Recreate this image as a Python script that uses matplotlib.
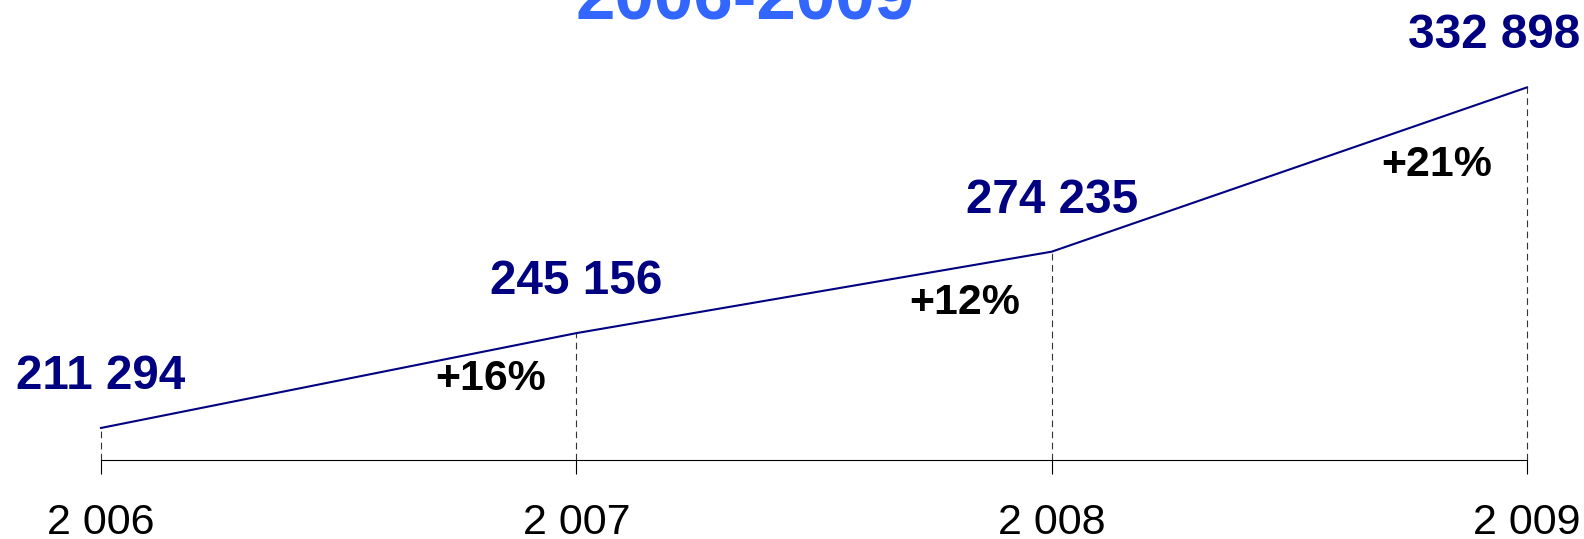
import matplotlib
matplotlib.use("Agg")
import matplotlib.pyplot as plt

plt.rcParams['font.family'] = ['Liberation Sans', 'DejaVu Sans']

years = [2006, 2007, 2008, 2009]
year_labels = ['2 006', '2 007', '2 008', '2 009']
values = [211294, 245156, 274235, 332898]
title = '2006-2009'

navy = '#000080'
blue = '#3366FF'

fig = plt.figure(figsize=(15.84, 5.39), dpi=100)
ax = fig.add_axes([101 / 1584, (539 - 459.6) / 539, (1527 - 101) / 1584, 459.6 / 539])
ax.set_xlim(2006, 2009)
ax.set_ylim(200000, 364100)

ax.plot(years, values, color=navy, lw=1.5, solid_joinstyle='miter', clip_on=False)
ax.vlines(years, 200000, values, colors='#333333', linestyles=(0, (6, 4)), lw=0.8, clip_on=False)

# value labels above each point
for i, (x, v) in enumerate(zip(years, values)):
    ha = 'center'
    dx = 0
    if i == len(years) - 1:
        ha = 'right'
        dx = 38
    ax.annotate(f"{v:,}".replace(",", " "), (x, v), xytext=(dx, 28), textcoords='offset points',
                ha=ha, va='baseline', fontsize=34.3, fontweight='bold', color=navy,
                annotation_clip=False)

# growth labels, placed left of and below each point
pct_offsets = [(-22, -41), (-23, -45), (-25, -64)]
for i in range(1, len(values)):
    pct = round((values[i] / values[i - 1] - 1) * 100)
    dx, dy = pct_offsets[i - 1]
    ax.annotate(f"+{pct}%", (years[i], values[i]), xytext=(dx, dy), textcoords='offset points',
                ha='right', va='baseline', fontsize=30.8, fontweight='bold', color='black',
                annotation_clip=False)

for s in ['top', 'right', 'left']:
    ax.spines[s].set_visible(False)
ax.spines['bottom'].set_bounds(2006, 2009)
ax.spines['bottom'].set_linewidth(0.8)
ax.set_yticks([])
ax.set_xticks(years)
ax.set_xticklabels(year_labels, fontsize=31)
ax.tick_params(axis='x', direction='out', length=10, width=0.8, pad=21)

fig.text(745 / 1584, (539 - 20) / 539, title, ha='center', va='baseline',
         fontsize=51, fontweight='bold', color=blue)

fig.savefig('out.png', dpi=100)
